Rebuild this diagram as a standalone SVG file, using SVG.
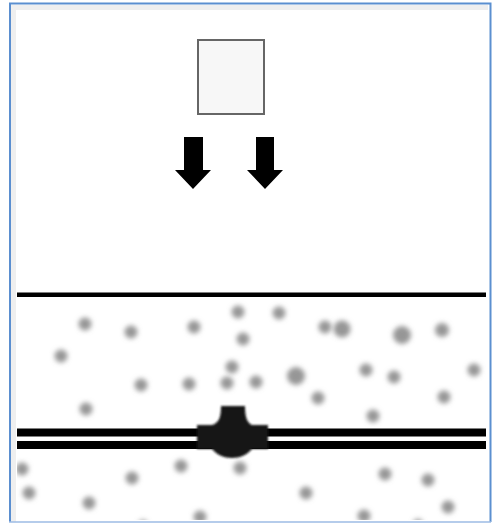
<svg xmlns="http://www.w3.org/2000/svg" width="493" height="523" viewBox="0 0 493 523">
<style>
.d{fill:#969696;filter:url(#b)}
.l{fill:#000;filter:url(#s)}
.f{fill:#171717;filter:url(#m)}
.a{fill:#000;filter:url(#s)}
</style>
<defs>
<filter id="b" x="-80%" y="-80%" width="260%" height="260%"><feGaussianBlur stdDeviation="2.4"/></filter>
<filter id="s" x="-5%" y="-50%" width="110%" height="200%"><feGaussianBlur stdDeviation="0.6"/></filter>
<filter id="m" x="-10%" y="-10%" width="120%" height="120%"><feGaussianBlur stdDeviation="1"/></filter>
<clipPath id="c"><rect x="17" y="300" width="470" height="220"/></clipPath>
</defs>
<rect width="493" height="523" fill="#fff"/>
<g id="frame">
<path d="M13.500 522V7.500H488" fill="none" stroke="#efefef" stroke-width="5"/>
<path d="M10 522V3.500H490.500V522" fill="none" stroke="#5b8fd0" stroke-width="2"/>
<path d="M9 522H491" stroke="#9dbbe4" stroke-width="1.500" fill="none"/>
</g>
<g id="square">
<rect x="198" y="40" width="66" height="74" fill="#f7f7f7" stroke="#666" stroke-width="2" style="filter:url(#s)"/>
</g>
<g id="connectors">
<path id="arrow-left" class="a" d="M184 137H203V170H211L193 189L175 170H184Z"/>
<path id="arrow-right" class="a" d="M256 137H274V170H283L265 189L247 170H256Z"/>
</g>
<g id="ground-line"><rect class="l" x="17" y="292.500" width="469" height="4.500"/></g>
<g id="particles" clip-path="url(#c)">
<circle class="d" cx="85" cy="324" r="6.500"/><circle class="d" cx="131" cy="332" r="6.500"/><circle class="d" cx="194" cy="327" r="6.500"/><circle class="d" cx="238" cy="312" r="6.500"/><circle class="d" cx="243" cy="339" r="6.500"/><circle class="d" cx="61" cy="356" r="6.500"/><circle class="d" cx="232" cy="367" r="6.500"/><circle class="d" cx="141" cy="385" r="6.500"/><circle class="d" cx="189" cy="384" r="6.500"/><circle class="d" cx="227" cy="383" r="6.500"/><circle class="d" cx="86" cy="409" r="6.500"/><circle class="d" cx="22" cy="469" r="6.500"/><circle class="d" cx="29" cy="493" r="6.500"/><circle class="d" cx="89" cy="503" r="6.500"/><circle class="d" cx="132" cy="478" r="6.500"/><circle class="d" cx="181" cy="466" r="6.500"/><circle class="d" cx="240" cy="468" r="6.500"/><circle class="d" cx="200" cy="517" r="6.500"/><circle class="d" cx="279" cy="313" r="6.500"/><circle class="d" cx="325" cy="327" r="6.500"/><circle class="d" cx="342" cy="329" r="8.500"/><circle class="d" cx="402" cy="335" r="9"/><circle class="d" cx="442" cy="330" r="7"/><circle class="d" cx="296" cy="376" r="9"/><circle class="d" cx="256" cy="382" r="6.500"/><circle class="d" cx="366" cy="370" r="6.500"/><circle class="d" cx="394" cy="377" r="6.500"/><circle class="d" cx="474" cy="370" r="6.500"/><circle class="d" cx="318" cy="398" r="6.500"/><circle class="d" cx="444" cy="397" r="6.500"/><circle class="d" cx="373" cy="416" r="6.500"/><circle class="d" cx="385" cy="474" r="6.500"/><circle class="d" cx="428" cy="480" r="6.500"/><circle class="d" cx="306" cy="493" r="6.500"/><circle class="d" cx="448" cy="507" r="6.500"/><circle class="d" cx="364" cy="516" r="6.500"/><circle class="d" cx="418" cy="524" r="5"/><circle class="d" cx="143" cy="525" r="5"/>
</g>
<g id="pipe">
<rect class="l" x="17" y="428.500" width="469" height="8"/>
<rect class="l" x="17" y="441" width="469" height="8"/>
</g>
<g id="fitting">
<path class="f" d="M197 425H212C218 423 221 419 221 406H245C245 419 248 423 252 425H268V449H252C247 455 240 458 232 458C224 458 217 455 212 449H197Z"/>
</g>
</svg>
